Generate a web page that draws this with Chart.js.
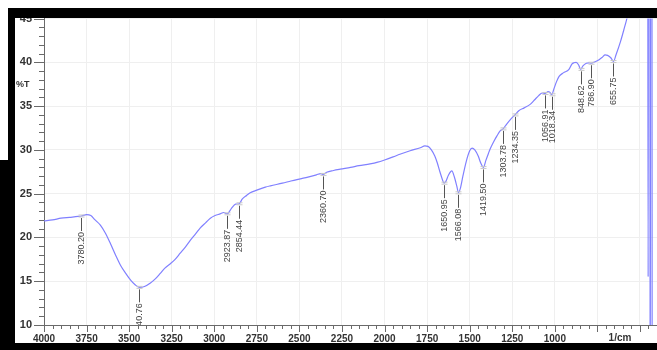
<!DOCTYPE html>
<html>
<head>
<meta charset="utf-8">
<title>FTIR spectrum</title>
<script src="https://cdn.jsdelivr.net/npm/chart.js@4/dist/chart.umd.min.js"></script>
<style>
  html, body { margin: 0; padding: 0; background: #ffffff; }
  #wrap { position: relative; width: 657px; height: 350px; overflow: hidden; }
  canvas { display: block; }
</style>
</head>
<body>
<div id="wrap"><canvas id="spectrum" width="657" height="350"></canvas></div>
<script>
// Spectrum: wavenumber (1/cm) and transmittance (%T)
const wavenumbers = [
  4000, 3950, 3900, 3850, 3800, 3780.20, 3750, 3725, 3700, 3669, 3640, 3610, 3580, 3550, 3520,
  3490, 3465, 3440.76, 3410, 3375, 3345, 3317, 3290, 3258, 3230, 3200, 3170, 3140, 3110, 3082,
  3050, 3023, 2995, 2965, 2945, 2923.87, 2900, 2875, 2854.44, 2835, 2810, 2789, 2750, 2700, 2670,
  2600, 2550, 2495, 2450, 2400, 2375, 2360.70, 2340, 2300, 2260, 2200, 2150, 2085, 2040, 2000,
  1950, 1910, 1850, 1790, 1763, 1745, 1725, 1705, 1690, 1675, 1660, 1650.95, 1640, 1625, 1605,
  1590, 1575, 1566.08, 1555, 1540, 1520, 1500, 1486, 1470, 1450, 1435, 1419.50, 1405, 1390, 1380,
  1360, 1340, 1320, 1303.78, 1285, 1260, 1245, 1234.35, 1210, 1180, 1145, 1120, 1095, 1075, 1056.91,
  1040, 1030, 1018.34, 1005, 990, 975, 950, 917, 900, 888, 875, 860, 848.62, 835, 815,
  800, 786.90, 760, 740, 720, 705, 690, 670, 655.75, 640, 614, 595, 577, 560, 530,
  500, 470, 455, 452, 450, 442, 440, 437, 430, 428, 400
];
const transmittance = [
  21.9, 22.0, 22.2, 22.3, 22.4, 22.45, 22.6, 22.5, 22.0, 21.4, 20.5, 19.3, 18.0, 16.8, 15.9,
  15.1, 14.6, 14.3, 14.4, 14.8, 15.3, 15.9, 16.5, 17.0, 17.5, 18.2, 18.9, 19.7, 20.4, 21.1,
  21.7, 22.2, 22.5, 22.7, 22.85, 22.7, 23.3, 23.8, 23.85, 24.4, 24.8, 25.1, 25.4, 25.75, 25.9,
  26.2, 26.45, 26.7, 26.9, 27.15, 27.3, 27.2, 27.45, 27.65, 27.8, 28.0, 28.2, 28.4, 28.6, 28.85,
  29.2, 29.5, 29.9, 30.25, 30.45, 30.4, 30.0, 29.3, 28.5, 27.5, 26.6, 26.2, 26.4, 27.1, 27.6,
  26.9, 25.8, 25.1, 25.6, 27.0, 28.7, 29.9, 30.2, 30.0, 29.3, 28.5, 28.0, 28.8, 29.6, 30.1,
  30.9, 31.6, 32.2, 32.4, 32.9, 33.5, 33.8, 34.0, 34.5, 34.8, 35.2, 35.7, 36.2, 36.5, 36.45,
  36.65, 36.6, 36.3, 37.0, 37.8, 38.4, 38.8, 39.2, 39.8, 39.95, 40.0, 39.7, 39.2, 39.6, 39.9,
  39.95, 39.9, 40.1, 40.3, 40.6, 40.85, 40.8, 40.5, 40.1, 40.9, 42.4, 43.7, 45.0, 46.5, 51,
  58, 66, 70, 15.5, 70, 70, -10, 70, 70, -10, -10
];

// Picked peaks (label text = wavenumber)
const peakWavenumbers = [
  3780.20, 3440.76, 2923.87, 2854.44, 2360.70, 1650.95, 1566.08, 1419.50,
  1303.78, 1234.35, 1056.91, 1018.34, 848.62, 786.90, 655.75
];

// Axis ticks
const xTickValues = [4000, 3750, 3500, 3250, 3000, 2750, 2500, 2250, 2000, 1750, 1500, 1250, 1000, 750, 500];
const xTickLabels = ['4000', '3750', '3500', '3250', '3000', '2750', '2500', '2250', '2000', '1750', '1500', '1250', '1000'];
const yTickValues = [10, 15, 20, 25, 30, 35, 40, 45];
const yTickLabels = ['10', '15', '20', '25', '30', '35', '40', '45'];
const xUnitLabel = '1/cm';
const yUnitLabel = '%T';

const LINE_COLOR = 'rgb(128,128,255)';
const AXIS_COLOR = '#6a6a6a';
const GRID_COLOR = '#efefef';
const TEXT_COLOR = '#333333';
const FONT = '"Liberation Sans", Arial, sans-serif';

const points = wavenumbers.map((w, i) => ({ x: w, y: transmittance[i] }));

// Major / minor tick marks drawn from the scales
const tickMarks = {
  id: 'tickMarks',
  afterDraw(chart) {
    const { ctx, chartArea, scales: { x, y } } = chart;
    ctx.save();
    ctx.strokeStyle = AXIS_COLOR;
    ctx.lineWidth = 1;
    ctx.beginPath();
    for (let v = x.max; v >= x.min; v -= 50) {
      const px = Math.round(x.getPixelForValue(v)) + 0.5;
      const len = xTickValues.includes(v) ? 7 : 4;
      ctx.moveTo(px, chartArea.bottom);
      ctx.lineTo(px, chartArea.bottom + len);
    }
    for (let v = y.min; v <= y.max; v += 1) {
      const py = Math.round(y.getPixelForValue(v)) + 0.5;
      const len = yTickValues.includes(v) ? 10 : 5;
      ctx.moveTo(chartArea.left, py);
      ctx.lineTo(chartArea.left - len, py);
    }
    ctx.stroke();

    // unit labels
    ctx.fillStyle = TEXT_COLOR;
    ctx.font = 'bold 10px ' + FONT;
    ctx.textAlign = 'center';
    ctx.textBaseline = 'middle';
    ctx.fillText(xUnitLabel, 620, chartArea.bottom + 13);
    ctx.font = 'bold 9px ' + FONT;
    ctx.textAlign = 'left';
    ctx.fillText(yUnitLabel, 16, y.getPixelForValue(37.5));
    ctx.restore();
  }
};

// Peak markers, leader lines and vertical wavenumber labels
const peakLabels = {
  id: 'peakLabels',
  afterDatasetsDraw(chart) {
    const { ctx, chartArea, scales: { x, y } } = chart;
    ctx.save();
    ctx.beginPath();
    ctx.rect(chartArea.left, chartArea.top, chartArea.right - chartArea.left, chartArea.bottom - chartArea.top);
    ctx.clip();
    peakWavenumbers.forEach((w) => {
      const t = transmittance[wavenumbers.indexOf(w)];
      const px = Math.round(x.getPixelForValue(w)) + 0.5;
      const py = y.getPixelForValue(t);
      // marker
      ctx.strokeStyle = '#c8c8c8';
      ctx.lineWidth = 1;
      ctx.beginPath();
      ctx.moveTo(px - 3, py - 1); ctx.lineTo(px + 3, py - 1);
      ctx.moveTo(px - 3, py + 1); ctx.lineTo(px + 3, py + 1);
      ctx.stroke();
      // leader
      ctx.strokeStyle = '#555555';
      ctx.beginPath();
      ctx.moveTo(px, py + 2);
      ctx.lineTo(px, py + 15);
      ctx.stroke();
      // label
      ctx.save();
      ctx.translate(px, py + 16);
      ctx.rotate(-Math.PI / 2);
      ctx.fillStyle = '#444444';
      ctx.font = '9px ' + FONT;
      ctx.textAlign = 'right';
      ctx.textBaseline = 'middle';
      ctx.fillText(w.toFixed(2), 0, 0);
      ctx.restore();
    });
    ctx.restore();
  }
};

// Heavy black frame around the plot
const frame = {
  id: 'frame',
  afterDraw(chart) {
    const ctx = chart.ctx;
    ctx.save();
    ctx.fillStyle = '#000000';
    ctx.fillRect(8, 8, 649, 10);
    ctx.fillRect(8, 8, 7, 342);
    ctx.fillRect(0, 160, 15, 190);
    ctx.fillRect(0, 343, 657, 7);
    ctx.restore();
  }
};

new Chart(document.getElementById('spectrum'), {
  type: 'line',
  data: {
    datasets: [{
      data: points,
      borderColor: LINE_COLOR,
      borderWidth: 1.2,
      pointRadius: 0,
      fill: false,
      cubicInterpolationMode: 'monotone'
    }]
  },
  options: {
    responsive: false,
    animation: false,
    devicePixelRatio: 1,
    layout: { padding: { left: 0, right: 0, top: 17, bottom: 0 } },
    plugins: { legend: { display: false }, tooltip: { enabled: false } },
    scales: {
      x: {
        type: 'linear',
        reverse: true,
        min: 400,
        max: 4000,
        afterBuildTicks: (s) => { s.ticks = xTickValues.map(v => ({ value: v })); },
        afterFit: (s) => { s.height = 25; },
        grid: { color: GRID_COLOR, drawTicks: false },
        border: { color: AXIS_COLOR },
        ticks: {
          autoSkip: false,
          maxRotation: 0,
          padding: 8,
          color: TEXT_COLOR,
          font: { family: FONT, size: 10, weight: 'bold' },
          callback: (v) => { const i = xTickValues.indexOf(v); return i < xTickLabels.length ? xTickLabels[i] : ''; }
        }
      },
      y: {
        type: 'linear',
        min: 10,
        max: 45,
        afterBuildTicks: (s) => { s.ticks = yTickValues.map(v => ({ value: v })); },
        afterFit: (s) => { s.width = 44; },
        grid: { color: GRID_COLOR, drawTicks: false },
        border: { color: AXIS_COLOR },
        ticks: {
          autoSkip: false,
          padding: 12,
          color: TEXT_COLOR,
          font: { family: FONT, size: 11, weight: 'bold' },
          callback: (v) => yTickLabels[yTickValues.indexOf(v)]
        }
      }
    }
  },
  plugins: [peakLabels, tickMarks, frame]
});
</script>
</body>
</html>
